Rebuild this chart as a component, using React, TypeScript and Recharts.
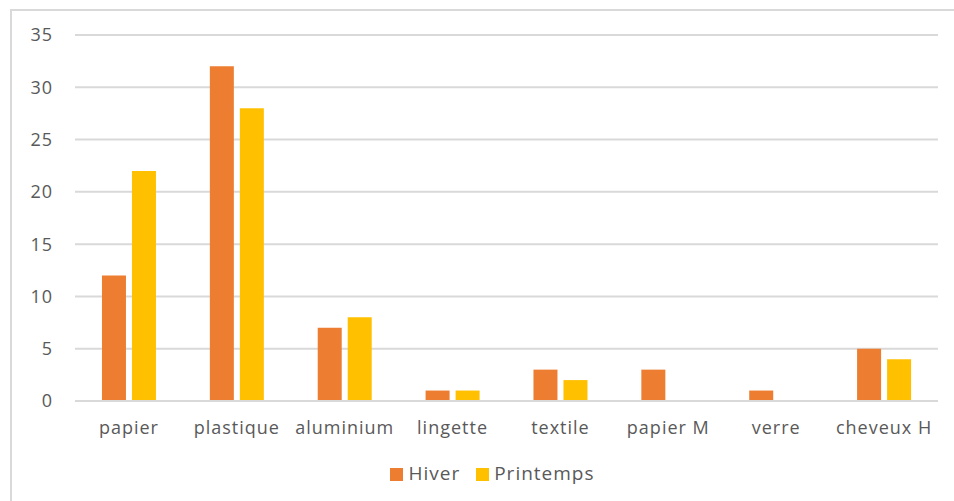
import React from "react";
import {
  BarChart,
  Bar,
  XAxis,
  YAxis,
  CartesianGrid,
  Legend,
} from "recharts";

const categories = [
  "papier",
  "plastique",
  "aluminium",
  "lingette",
  "textile",
  "papier M",
  "verre",
  "cheveux H",
];
const hiver = [12, 32, 7, 1, 3, 3, 1, 5];
const printemps = [22, 28, 8, 1, 2, 0, 0, 4];
const yTicks = [0, 5, 10, 15, 20, 25, 30, 35];

const data = categories.map((name, i) => ({
  name,
  Hiver: hiver[i],
  Printemps: printemps[i],
}));

const FONT = "'Open Sans', sans-serif";
const TEXT = "#595959";
const GRID = "#d9d9d9";
const tickStyle = { fill: TEXT, fontSize: 18, fontFamily: FONT, letterSpacing: 1 };

export default function App() {
  return (
    <div
      style={{
        position: "absolute",
        left: 0,
        top: 0,
        width: 954,
        height: 501,
        background: "#fff",
        overflow: "hidden",
        fontFamily: FONT,
      }}
    >
      <div
        style={{
          position: "absolute",
          left: 10,
          top: 9,
          width: 1000,
          height: 600,
          border: "2px solid #d9d9d9",
          boxSizing: "border-box",
        }}
      />
      <div style={{ position: "absolute", left: 0, top: 0 }}>
        <BarChart
          width={954}
          height={501}
          data={data}
          margin={{ top: 35, right: 16, left: 15, bottom: 16 }}
          barCategoryGap="25%"
          barGap={6}
        >
          <CartesianGrid vertical={false} stroke={GRID} strokeWidth={2} />
          <XAxis
            dataKey="name"
            axisLine={{ stroke: GRID, strokeWidth: 2 }}
            tickLine={false}
            height={58}
            tick={tickStyle}
            dy={12}
          />
          <YAxis
            domain={[0, 35]}
            ticks={yTicks}
            axisLine={false}
            tickLine={false}
            width={60}
            tick={tickStyle}
            dx={-14}
          />
          <Legend
            verticalAlign="bottom"
            iconType="square"
            iconSize={13}
            wrapperStyle={{
              fontSize: 19,
              color: TEXT,
              fontFamily: FONT,
              letterSpacing: 1,
              bottom: 15,
              left: 39,
            }}
            formatter={(v: string) => (
              <span style={{ color: TEXT, marginRight: 6, marginLeft: 1 }}>{v}</span>
            )}
          />
          <Bar dataKey="Hiver" fill="#ED7D31" isAnimationActive={false} />
          <Bar dataKey="Printemps" fill="#FFC000" isAnimationActive={false} />
        </BarChart>
      </div>
    </div>
  );
}
